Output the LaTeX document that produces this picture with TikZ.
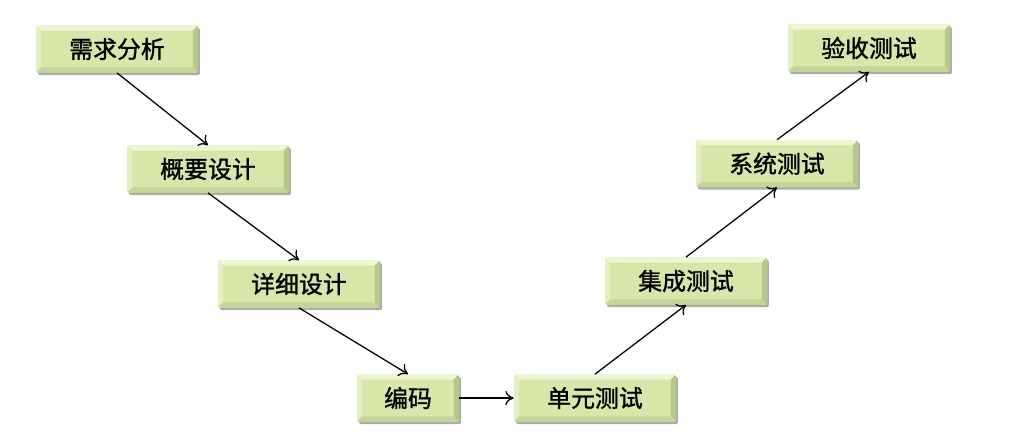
\documentclass[tikz,border=0pt]{standalone}
\usepackage{fontspec}
\newfontfamily\cjk[FakeBold=1.2]{Noto Sans CJK SC}
\usepackage{tikz}
\usetikzlibrary{arrows.meta,shadows}
\usepackage{xcolor}

\definecolor{faceGreen}{HTML}{D6E7A8}
\definecolor{bevTop}{HTML}{EEF6D4}
\definecolor{bevLeft}{HTML}{E3EFC0}
\definecolor{bevRight}{HTML}{B4C888}
\definecolor{bevBottom}{HTML}{C2D698}
\newcommand{\bev}{0.13cm}

\tikzset{
  phase/.style={minimum width=4.05cm, minimum height=1.18cm, inner sep=0pt,
    rounded corners=1.5pt, fill=faceGreen,
    font=\cjk\fontsize{17}{20}\selectfont,
    drop shadow={shadow xshift=1.4pt, shadow yshift=-1.8pt, opacity=.5, fill=black!65},
    path picture={
      \path (path picture bounding box.north west) coordinate (bb1)
            (path picture bounding box.north east) coordinate (bb2)
            (path picture bounding box.south east) coordinate (bb3)
            (path picture bounding box.south west) coordinate (bb4);
      \fill[bevTop, sharp corners] (bb1) -- (bb2) -- ([shift={(-\bev,-\bev)}]bb2)
        -- ([shift={(\bev,-\bev)}]bb1) -- cycle;
      \fill[bevLeft, sharp corners] (bb1) -- ([shift={(\bev,-\bev)}]bb1)
        -- ([shift={(\bev,\bev)}]bb4) -- (bb4) -- cycle;
      \fill[bevRight, sharp corners] (bb2) -- (bb3) -- ([shift={(-\bev,\bev)}]bb3)
        -- ([shift={(-\bev,-\bev)}]bb2) -- cycle;
      \fill[bevBottom, sharp corners] (bb4) -- ([shift={(\bev,\bev)}]bb4)
        -- ([shift={(-\bev,\bev)}]bb3) -- (bb3) -- cycle;
    }},
  flow/.style={-{To[length=6pt,width=10pt]}, line width=0.9pt}
}

\begin{document}
\begin{tikzpicture}
\useasboundingbox (0,0) rectangle (25.3,-11.05);

\node[phase] (req) at (2.925,-1.225) {需求分析};
\node[phase] (outline) at (5.2,-4.225) {概要设计};
\node[phase] (detail) at (7.475,-7.1) {详细设计};
\node[phase, minimum width=2.55cm] (code) at (10.2,-9.95) {编码};
\node[phase] (unit) at (14.875,-9.95) {单元测试};
\node[phase] (integ) at (17.15,-7.025) {集成测试};
\node[phase] (system) at (19.425,-4.09) {系统测试};
\node[phase] (accept) at (21.725,-1.2) {验收测试};

\draw[flow] (req.south) -- (outline.north);
\draw[flow] (outline.south) -- (detail.north);
\draw[flow] (detail.south) -- (code.north);
\draw[flow] (code.east) -- (unit.west);
\draw[flow] (unit.north) -- (integ.south);
\draw[flow] (integ.north) -- (system.south);
\draw[flow] (system.north) -- (accept.south);
\end{tikzpicture}
\end{document}
